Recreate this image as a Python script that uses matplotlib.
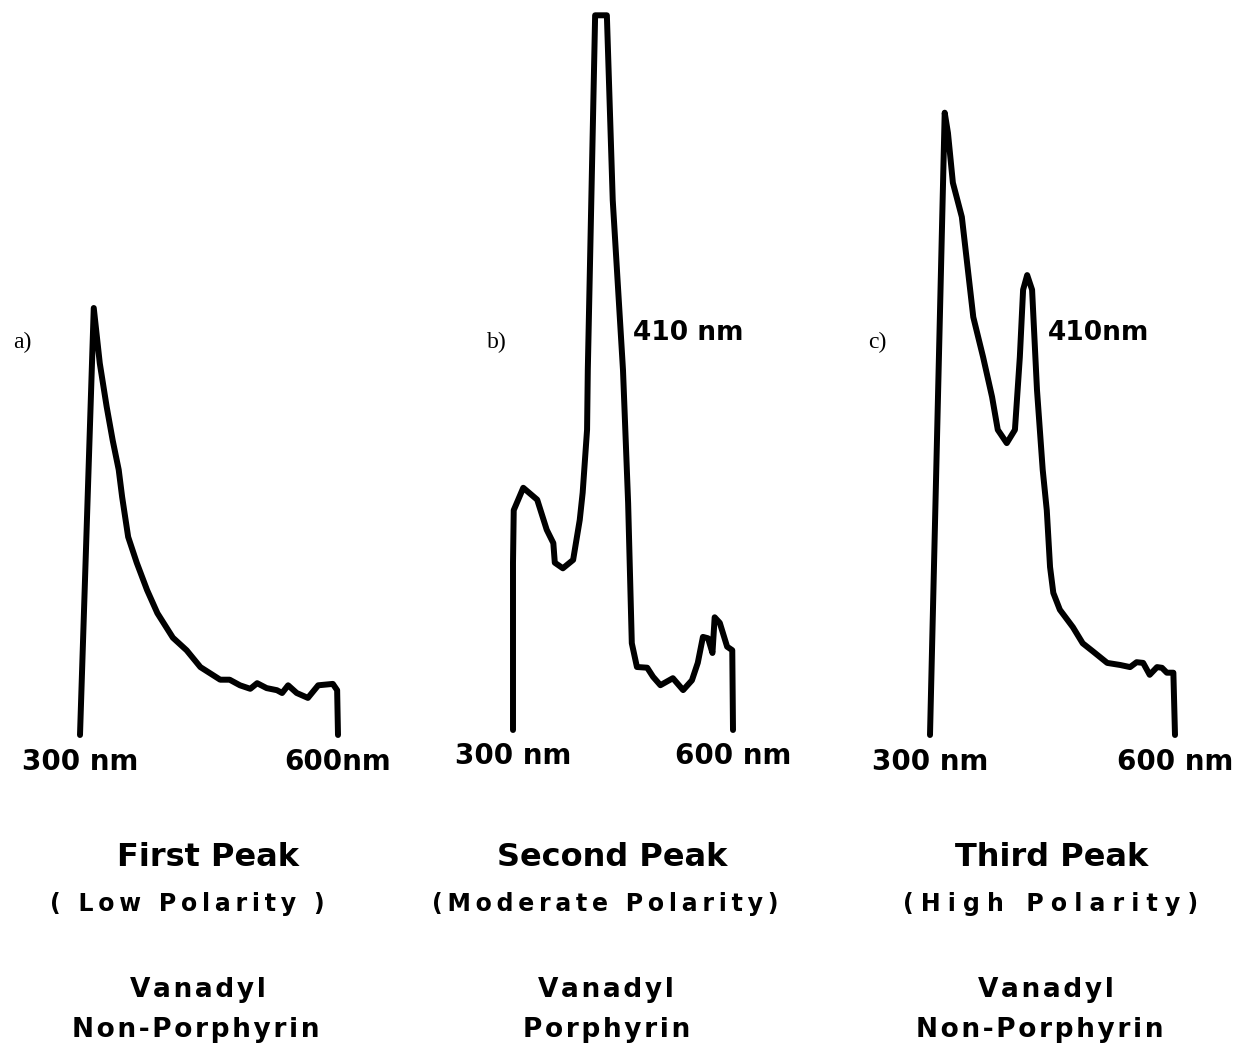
import matplotlib

matplotlib.use("Agg")
import matplotlib.pyplot as plt

W, H = 1236, 1048

# wavelength (nm) and relative absorbance
a_nm = [300, 316, 323, 331, 338, 345, 349, 356, 366, 378, 390, 408, 424, 440, 463, 474,
        486, 498, 506, 517, 529, 535, 542, 552, 565, 577, 594, 599, 600]
a_abs = [0.0, 0.610, 0.531, 0.469, 0.421, 0.379, 0.340, 0.283, 0.246, 0.207, 0.174, 0.139,
         0.121, 0.097, 0.079, 0.079, 0.071, 0.066, 0.074, 0.067, 0.064, 0.060, 0.071, 0.060,
         0.053, 0.071, 0.073, 0.064, 0.0]

b_nm = [300, 300, 301, 314, 333, 346, 355, 357, 368, 382, 391, 395, 401, 402, 412, 428,
        436, 450, 453, 457, 462, 469, 483, 491, 501, 518, 532, 544, 552, 559, 566, 572,
        575, 582, 592, 599, 600]
b_abs = [0.0, 0.239, 0.314, 0.346, 0.329, 0.286, 0.267, 0.239, 0.231, 0.243, 0.300, 0.339,
         0.429, 0.514, 1.021, 1.021, 0.757, 0.514, 0.433, 0.324, 0.124, 0.090, 0.089, 0.076,
         0.064, 0.074, 0.057, 0.071, 0.096, 0.133, 0.131, 0.110, 0.161, 0.153, 0.119, 0.114,
         0.0]

c_nm = [300, 318, 322, 328, 339, 353, 365, 376, 383, 394, 404, 410, 414, 419, 425, 431,
        438, 443, 447, 451, 459, 475, 487, 500, 517, 533, 545, 553, 561, 569, 578, 584,
        590, 598, 600]
c_abs = [0.0, 0.889, 0.860, 0.789, 0.740, 0.597, 0.540, 0.483, 0.436, 0.417, 0.436, 0.540,
         0.636, 0.657, 0.636, 0.493, 0.379, 0.321, 0.240, 0.203, 0.179, 0.154, 0.131, 0.119,
         0.103, 0.100, 0.097, 0.104, 0.103, 0.086, 0.097, 0.096, 0.089, 0.089, 0.0]

tick_nm = [300, 600]
tick_labels = [["300 nm", "600nm"], ["300 nm", "600 nm"], ["300 nm", "600 nm"]]
panel_letters = ["a)", "b)", "c)"]
titles = ["First Peak", "Second Peak", "Third Peak"]
polarity = ["( Low Polarity )", "(Moderate Polarity)", "(High Polarity)"]
compound = [["Vanadyl", "Non-Porphyrin"], ["Vanadyl", "Porphyrin"], ["Vanadyl", "Non-Porphyrin"]]
peak_labels = [None, "410 nm", "410nm"]

# pixel placement of each panel: x of 300 nm, x of 600 nm, baseline y
frames = [(80, 338, 735), (513, 733, 730), (930, 1175, 735)]
PX_PER_UNIT = 700


def fx(px):
    return px / W


def fy(py):
    return 1 - py / H


def spaced(s, n=1):
    # lettering in the original is widely tracked
    return ("\u200a" * n).join(s)


def main():
    fig = plt.figure(figsize=(W / 100, H / 100), dpi=100)
    fig.patch.set_facecolor("white")
    plt.rcParams["font.family"] = ["DejaVu Sans"]

    series = [(a_nm, a_abs), (b_nm, b_abs), (c_nm, c_abs)]
    for i, (nm, ab) in enumerate(series):
        x0, x1, base = frames[i]
        ax = fig.add_axes([fx(x0), fy(base), (x1 - x0) / W, PX_PER_UNIT / H])
        ax.plot(nm, ab, color="black", lw=4.3, solid_joinstyle="round",
                solid_capstyle="round", clip_on=False)
        ax.set_xlim(300, 600)
        ax.set_ylim(0, 1)
        for s in ax.spines.values():
            s.set_visible(False)
        ax.set_yticks([])
        ax.set_xticks(tick_nm)
        ax.set_xticklabels(tick_labels[i], fontsize=20, fontweight="bold")
        ax.tick_params(axis="x", length=0, pad=9)
        ax.patch.set_alpha(0)

    letter_x = [22, 497, 877]
    for lx, t in zip(letter_x, panel_letters):
        fig.text(fx(lx), fy(342), t, fontsize=17, family="Liberation Serif",
                 ha="center", va="center")

    peak_pos = [None, (633, 333), (1048, 333)]
    for pos, t in zip(peak_pos, peak_labels):
        if t:
            fig.text(fx(pos[0]), fy(pos[1]), t, fontsize=19, fontweight="bold",
                     ha="left", va="center")

    title_x = [208, 612, 1052]
    pol_x = [187, 605, 1051]
    pol_track = [2, 2, 3]
    comp_x = [(198, 196), (606, 607), (1046, 1040)]
    for i in range(3):
        fig.text(fx(title_x[i]), fy(858), titles[i], fontsize=23, ha="center",
                 va="center", fontweight="bold")
        fig.text(fx(pol_x[i]), fy(904), spaced(polarity[i], pol_track[i]), fontsize=17,
                 ha="center", va="center", fontweight="bold")
        fig.text(fx(comp_x[i][0]), fy(990), spaced(compound[i][0]), fontsize=19,
                 ha="center", va="center", fontweight="bold")
        fig.text(fx(comp_x[i][1]), fy(1030), spaced(compound[i][1]), fontsize=19,
                 ha="center", va="center", fontweight="bold")

    fig.savefig("out.png", dpi=100, facecolor="white")
    plt.close(fig)


if __name__ == "__main__":
    main()
